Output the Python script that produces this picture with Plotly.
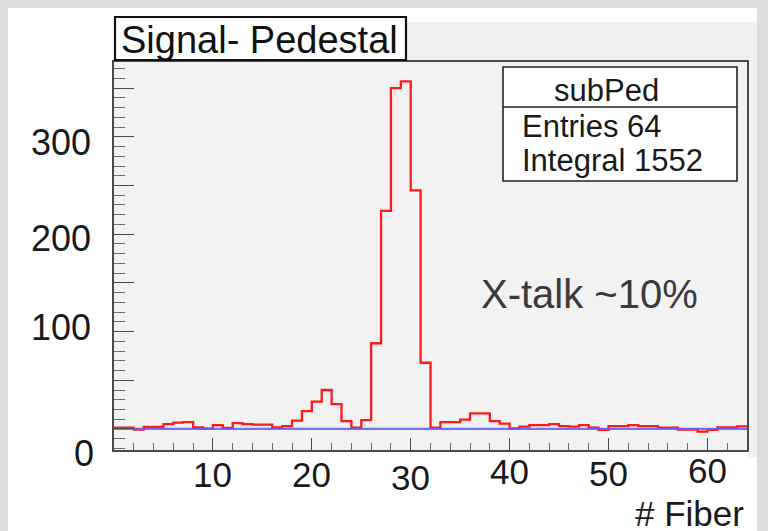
import plotly.graph_objects as go

# ---------------- data ----------------
fiber_edges_start = 0
n_bins = 64
sub_ped = [1.4, 1.4, -0.7, 2, 2, 5, 6.5, 7, 1.5, 0.4,
           4, 1, 6, 5, 4.5, 4.5, 1.5, 3, 8.5, 18.4,
           28, 40, 25.5, 8, 1.4, 9, 88, 224, 350, 357,
           245, 68, 1.4, 7, 7, 9.5, 16, 16, 8, 5.4,
           0.7, 2.4, 4, 4, 5, 3, 2.4, 4, 1.4, -1,
           3, 3, 4, 3, 3, 1.4, 1.4, -0.7, -0.7, -2.7,
           -1, 1.7, 1.7, 2.7]
baseline_x = [0, 64]
baseline_y = [0, 0]
x_tick_labels = [10, 20, 30, 40, 50, 60]
y_tick_labels = ["300", "200", "100", "0"]
stats_name = "subPed"
stats_lines = ["Entries 64", "Integral 1552"]
title_text = "Signal- Pedestal"
note_text = "X-talk ~10%"
x_title = "# Fiber"

# ---------------- layout geometry (window pixels) ----------------
OFF = 8                      # default page (body) margin of the html page
WIN_W, WIN_H = 768, 531
W, H = WIN_W - OFF, WIN_H - OFF
FRAME_L, FRAME_R, FRAME_T, FRAME_B = 114, 747, 62, 450
L, T = FRAME_L - OFF, FRAME_T - OFF
R, B = WIN_W - FRAME_R, WIN_H - FRAME_B
PW, PH = FRAME_R - FRAME_L, FRAME_B - FRAME_T


def px(x):
    return (x - FRAME_L) / PW


def py(y):
    return (FRAME_B - y) / PH


FONT = "Liberation Sans, Arial, sans-serif"

edges = [fiber_edges_start + i for i in range(n_bins)] + [fiber_edges_start + n_bins]
vals = sub_ped + [sub_ped[-1]]

fig = go.Figure()
fig.add_trace(go.Scatter(x=edges, y=vals, mode="lines", line_shape="hv",
                         line=dict(color="#ff1a1a", width=2.3), hoverinfo="skip",
                         showlegend=False))
fig.add_trace(go.Scatter(x=baseline_x, y=baseline_y, mode="lines",
                         line=dict(color="rgba(90,90,255,0.85)", width=2.2),
                         hoverinfo="skip", showlegend=False))

axis_col = "#4a4a4a"
fig.update_layout(
    width=W, height=H,
    margin=dict(l=L, r=R, t=T, b=B, pad=0),
    paper_bgcolor="white",
    plot_bgcolor="#f2f2f2",
    font=dict(family=FONT, color="#1a1a1a"),
    xaxis=dict(range=[0, 64], showgrid=False, zeroline=False,
               tick0=0, dtick=10, ticks="inside", ticklen=12, tickwidth=1.3,
               tickcolor=axis_col, showticklabels=False,
               minor=dict(dtick=2, ticks="inside", ticklen=7, tickwidth=1.1,
                          tickcolor="#6a6a6a", showgrid=False),
               showline=True, linecolor=axis_col, linewidth=1.6, mirror=True),
    yaxis=dict(range=[-21.6, 376.8], showgrid=False, zeroline=False,
               tick0=0, dtick=50, ticks="inside", ticklen=20, tickwidth=1.3,
               tickcolor=axis_col, showticklabels=False,
               minor=dict(dtick=10, ticks="inside", ticklen=11, tickwidth=1.1,
                          tickcolor="#6a6a6a", showgrid=False),
               showline=True, linecolor=axis_col, linewidth=1.6, mirror=True),
)

shapes = []
grey = "#dcdcdc"
# right grey border strip
shapes.append(dict(type="rect", xref="paper", yref="paper", x0=px(757), x1=px(WIN_W + 2),
                   y0=py(WIN_H + 2), y1=py(OFF),
                   fillcolor=grey, line=dict(width=0), layer="below"))
# light pad fill above / right of frame
shapes.append(dict(type="rect", xref="paper", yref="paper", x0=px(406), x1=px(757), y0=py(62), y1=py(22),
                   fillcolor="#f0f0f0", line=dict(width=0), layer="below"))
shapes.append(dict(type="rect", xref="paper", yref="paper", x0=px(748), x1=px(757), y0=py(457), y1=py(62),
                   fillcolor="#f0f0f0", line=dict(width=0), layer="below"))
# title box
shapes.append(dict(type="rect", xref="paper", yref="paper", x0=px(115), x1=px(406), y0=py(60), y1=py(17),
                   fillcolor="white", line=dict(color="#111111", width=2.2), layer="above"))
# stats box
shapes.append(dict(type="rect", xref="paper", yref="paper", x0=px(503), x1=px(737), y0=py(181), y1=py(67),
                   fillcolor="white", line=dict(color="#222222", width=1.6), layer="above"))
shapes.append(dict(type="line", xref="paper", yref="paper", x0=px(503), x1=px(737), y0=py(107), y1=py(107),
                   line=dict(color="#222222", width=1.6), layer="above"))
fig.update_layout(shapes=shapes)

ann = []
ann.append(dict(text=title_text, xref="paper", yref="paper", x=px(259), y=py(40),
                xanchor="center", yanchor="middle", showarrow=False,
                font=dict(size=38, color="#111111", family=FONT)))
ann.append(dict(text=stats_name, xref="paper", yref="paper", x=px(606), y=py(91),
                xanchor="center", yanchor="middle", showarrow=False,
                font=dict(size=31, color="#1a1a1a", family=FONT)))
for i, s in enumerate(stats_lines):
    ann.append(dict(text=s, xref="paper", yref="paper", x=px(520), y=py(127 + 33 * i),
                    xanchor="left", yanchor="middle", showarrow=False,
                    font=dict(size=31, color="#1a1a1a", family=FONT)))
ann.append(dict(text=note_text, xref="paper", yref="paper", x=px(589), y=py(294),
                xanchor="center", yanchor="middle", showarrow=False,
                font=dict(size=40, color="#3a3a3a", family=FONT)))
ann.append(dict(text=x_title, xref="paper", yref="paper", x=px(746), y=py(513),
                xanchor="right", yanchor="middle", showarrow=False, height=30,
                font=dict(size=35, color="#1a1a1a", family=FONT)))
x_label_y = [474, 474, 477, 471, 473, 470]
for v, yy in zip(x_tick_labels, x_label_y):
    ann.append(dict(text=str(v), xref="x", yref="paper", x=v, y=py(yy),
                    xanchor="center", yanchor="middle", showarrow=False, height=28,
                    font=dict(size=35, color="#1a1a1a", family=FONT)))
y_label_y = [142, 238, 327, 453]
y_label_right = [93, 93, 93, 96]
for t, yy, xr in zip(y_tick_labels, y_label_y, y_label_right):
    ann.append(dict(text=t, xref="paper", yref="paper", x=px(xr), y=py(yy),
                    xanchor="right", yanchor="middle", showarrow=False, height=30,
                    font=dict(size=36, color="#1a1a1a", family=FONT)))
fig.update_layout(annotations=ann)

fig.write_html("out.html",
               post_script="document.body.style.background='#dcdcdc';"
                           "document.documentElement.style.overflow='hidden';")
